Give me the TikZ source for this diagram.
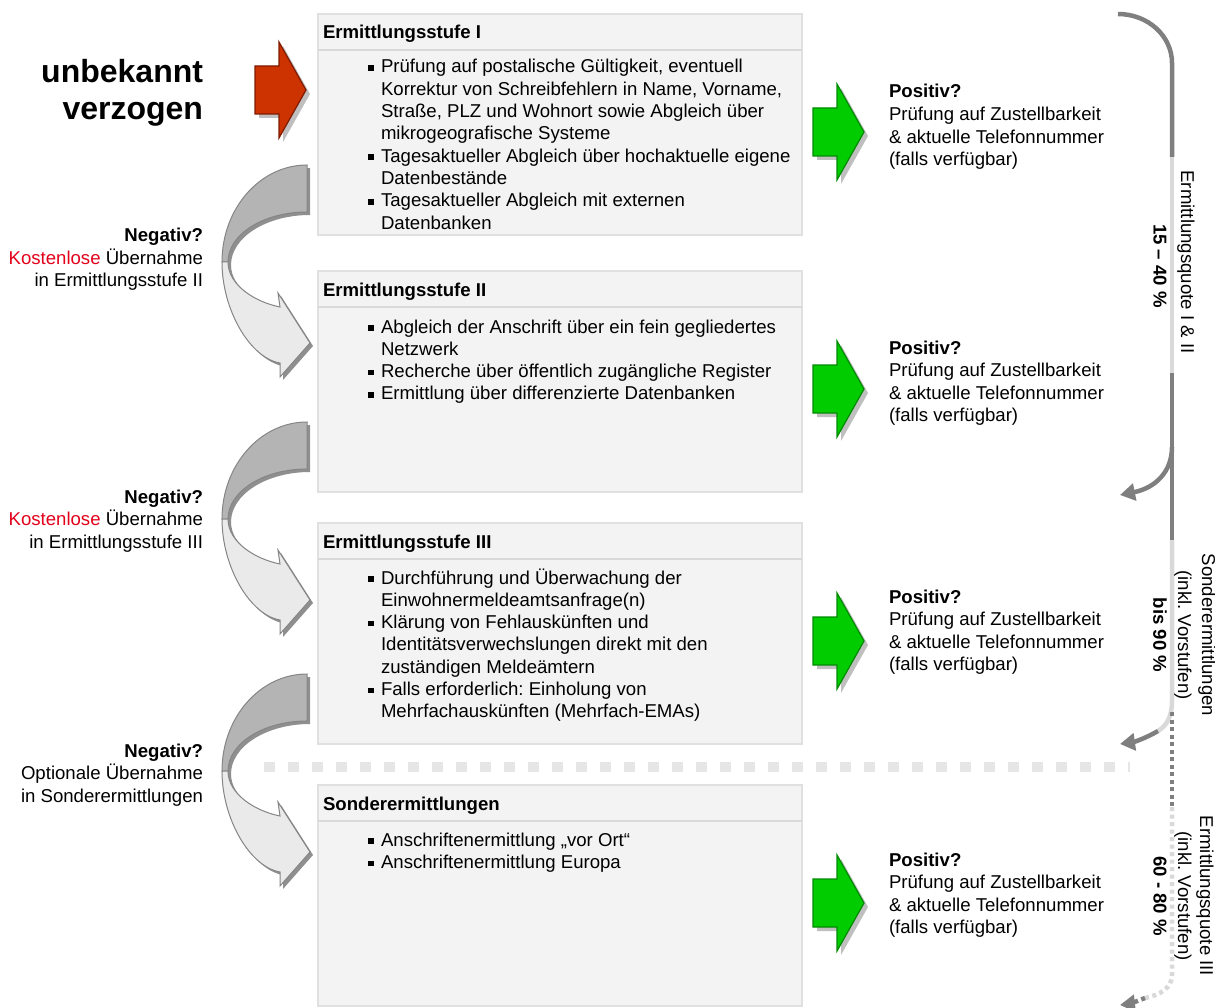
\documentclass[tikz,border=0pt]{standalone}
\usepackage{fontspec}
\setmainfont{Liberation Sans}
\usetikzlibrary{arrows.meta}
\frenchspacing
\definecolor{dk}{HTML}{7F7F7F}
\definecolor{lt}{HTML}{D9D9D9}
\definecolor{boxfill}{HTML}{F3F3F3}
\definecolor{boxline}{HTML}{E0E0E0}
\definecolor{sepc}{HTML}{D9D9D9}
\definecolor{redA}{HTML}{CC3300}
\definecolor{redB}{HTML}{801A00}
\definecolor{grA}{HTML}{00CC00}
\definecolor{grB}{HTML}{008A00}
\definecolor{shad}{HTML}{BFBFBF}
\definecolor{kred}{HTML}{E2001A}
\definecolor{cdark}{HTML}{B4B4B4}
\definecolor{clight}{HTML}{EAEAEA}
\definecolor{cline}{HTML}{858585}
\definecolor{cshad}{HTML}{8F8F8F}
\definecolor{dashc}{HTML}{E6E6E6}
\newcommand\bul{\makebox[13pt][l]{\rule[2.2pt]{5.5pt}{5.5pt}}}
\newcommand\cnt{\hspace*{13pt}}
\newcommand\fst{\rule{0pt}{17pt}}
\tikzset{
  every node/.style={inner sep=0pt,outer sep=0pt},
  txt/.style={font=\fontsize{18.6}{22.3}\selectfont\frenchspacing, align=left, anchor=north west},
  postxt/.style={font=\fontsize{18.6}{22.6}\selectfont, align=left, anchor=north west},
  lbl/.style={font=\fontsize{18.6}{22.5}\selectfont, align=right, anchor=north east},
  titletxt/.style={font=\fontsize{32}{37}\selectfont\bfseries, align=right, anchor=north east},
  hdr/.style={font=\fontsize{18.6}{22.3}\selectfont\bfseries, anchor=base west},
  stagebox/.style={draw=boxline, line width=1.2pt, fill=boxfill, minimum width=484pt, minimum height=221pt, anchor=north west},
  sepline/.style={draw=sepc, line width=1.6pt},
  rot/.style={font=\fontsize{18.6}{22.3}\selectfont, rotate=-90},
  brk/.style={line width=4.5pt},
  tipA/.style={-{Triangle[length=15pt,width=17pt]}},
  dots/.style={dash pattern=on 4pt off 3.5pt},
  sepdash/.style={draw=dashc, line width=10pt, dash pattern=on 11pt off 13pt},
  pics/barrow/.style 2 args={code={
    \fill[shad,shift={(4,4)}] (-51,-24) -- (-27,-24) -- (-27,-48) -- (0,0) -- (-27,48) -- (-27,24) -- (-51,24) -- cycle;
    \filldraw[fill=#1,draw=#2,line width=1.2pt] (-51,-24) -- (-27,-24) -- (-27,-48) -- (0,0) -- (-27,48) -- (-27,24) -- (-51,24) -- cycle;
  }},
  pics/carrow/.style={code={
    \fill[cshad,shift={(3,3)}] (85,0) .. controls (38.1,0) and (0,43.4) .. (0,97) -- (6,97) .. controls (6,69.4) and (41.4,47) .. (85,47) -- cycle;
    \filldraw[fill=cdark,draw=cline,line width=1pt] (85,0) .. controls (38.1,0) and (0,43.4) .. (0,97) -- (6,97) .. controls (6,69.4) and (41.4,47) .. (85,47) -- cycle;
    \fill[cshad,shift={(3,3)}] (0,97) .. controls (0,145) and (28,193) .. (58,198) -- (58,212) -- (88,178) -- (56,128) -- (58,142) .. controls (33,137) and (6,120) .. (6,97) -- cycle;
    \filldraw[fill=clight,draw=cline,line width=1pt] (0,97) .. controls (0,145) and (28,193) .. (58,198) -- (58,212) -- (88,178) -- (56,128) -- (58,142) .. controls (33,137) and (6,120) .. (6,97) -- cycle;
  }}
}
\begin{document}
\begin{tikzpicture}[x=1pt,y=-1pt]
\useasboundingbox (0,0) rectangle (1215,1008);

% stage boxes
\node[stagebox] (s1) at (318,14) {};
\node[stagebox] (s2) at (318,271) {};
\node[stagebox] (s3) at (318,523) {};
\node[stagebox] (s4) at (318,785) {};
\foreach \b in {s1,s2,s3,s4}{
  \draw[sepline] ([yshift=-36pt]\b.north west) -- ([yshift=-36pt]\b.north east);
}

% headers
\node[hdr] (h1) at (323,39) {Ermittlungsstufe I};
\node[hdr] (h2) at (323,296) {Ermittlungsstufe II};
\node[hdr] (h3) at (323,548) {Ermittlungsstufe III};
\node[hdr] (h4) at (323,810) {Sonderermittlungen};

% body texts
\node[txt] (t1) at (368,56) {\fst\bul Prüfung auf postalische Gültigkeit, eventuell\\
\cnt Korrektur von Schreibfehlern in Name, Vorname,\\
\cnt Straße, PLZ und Wohnort sowie Abgleich über\\
\cnt mikrogeografische Systeme\\
\bul Tagesaktueller Abgleich über hochaktuelle eigene\\
\cnt Datenbestände\\
\bul Tagesaktueller Abgleich mit externen\\
\cnt Datenbanken};

\node[txt] (t2) at (368,316) {\fst\bul Abgleich der Anschrift über ein fein gegliedertes\\
\cnt Netzwerk\\
\bul Recherche über öffentlich zugängliche Register\\
\bul Ermittlung über differenzierte Datenbanken};

\node[txt] (t3) at (368,567) {\fst\bul Durchführung und Überwachung der\\
\cnt Einwohnermeldeamtsanfrage(n)\\
\bul Klärung von Fehlauskünften und\\
\cnt Identitätsverwechslungen direkt mit den\\
\cnt zuständigen Meldeämtern\\
\bul Falls erforderlich: Einholung von\\
\cnt Mehrfachauskünften (Mehrfach-EMAs)};

\node[txt] (t4) at (368,829) {\fst\bul Anschriftenermittlung „vor Ort“\\
\bul Anschriftenermittlung Europa};

% title and red arrow
\node[titletxt] (uv) at (203,55) {\rule{0pt}{28pt}unbekannt\\verzogen};
\pic at (306,90) {barrow={redA}{redB}};

% green arrows
\pic at (864,132) {barrow={grA}{grB}};
\pic at (864,389) {barrow={grA}{grB}};
\pic at (864,641) {barrow={grA}{grB}};
\pic at (864,903) {barrow={grA}{grB}};

% positive texts
\node[postxt] (p1) at (889,81) {\fst\textbf{Positiv?}\\Prüfung auf Zustellbarkeit\\\& aktuelle Telefonnummer\\(falls verfügbar)};
\node[postxt] (p2) at (889,337) {\fst\textbf{Positiv?}\\Prüfung auf Zustellbarkeit\\\& aktuelle Telefonnummer\\(falls verfügbar)};
\node[postxt] (p3) at (889,586) {\fst\textbf{Positiv?}\\Prüfung auf Zustellbarkeit\\\& aktuelle Telefonnummer\\(falls verfügbar)};
\node[postxt] (p4) at (889,849) {\fst\textbf{Positiv?}\\Prüfung auf Zustellbarkeit\\\& aktuelle Telefonnummer\\(falls verfügbar)};

% curved arrows
\pic at (222,165) {carrow};
\pic at (222,422) {carrow};
\pic at (222,674) {carrow};

% negative labels
\node[lbl] (n1) at (203,225) {\fst\textbf{Negativ?}\\\textcolor{kred}{Kostenlose} Übernahme\\in Ermittlungsstufe II};
\node[lbl] (n2) at (203,486) {\fst\textbf{Negativ?}\\\textcolor{kred}{Kostenlose} Übernahme\\in Ermittlungsstufe III};
\node[lbl] (n3) at (203,740) {\fst\textbf{Negativ?}\\Optionale Übernahme\\in Sonderermittlungen};

% dashed separator
\coordinate (sd0) at (264,767);
\coordinate (sd1) at (1130,767);
\draw[sepdash] (sd0) -- (sd1);

% right bracket lines
\coordinate (r0) at (1118,14);
\coordinate (r1) at (1172,63);
\coordinate (r2) at (1172,157);
\coordinate (r3) at (1172,373);
\coordinate (r4) at (1172,447);
\coordinate (r5) at (1172,540);
\coordinate (r6) at (1172,700);
\coordinate (a1) at (1120,495);
\coordinate (a2m) at (1158,731);
\coordinate (a2) at (1120,744);
\coordinate (d0) at (1172,712);
\coordinate (d1) at (1172,807);
\coordinate (d2) at (1172,975);
\coordinate (d3m) at (1145,998);
\coordinate (a3) at (1120,1005);

\draw[brk,dk] (r0) .. controls (1148,14) and (1172,36) .. (r1) -- (r2);
\draw[brk,lt] (r2) -- (r3);
\draw[brk,dk] (r3) -- (r5);
\draw[brk,dk,tipA] (r4) .. controls (1172,472) and (1155,488) .. (a1);
\draw[brk,lt] (r5) -- (r6) .. controls (1172,718) and (1166,726) .. (a2m);
\draw[brk,dk,tipA] (a2m) .. controls (1146,738) and (1134,742) .. (a2);
\draw[brk,dk,dots] (d0) -- (d1);
\draw[brk,lt,dots] (d1) -- (d2) .. controls (1172,988) and (1160,995) .. (d3m);
\draw[brk,dk,dots,tipA] (d3m) .. controls (1137,1001) and (1129,1004) .. (a3);

% rotated labels
\node[rot] (q1a) at (1186,262) {Ermittlungsquote I \& II};
\node[rot] (q1b) at (1160,266) {\textbf{15 – 40 \%}};
\node[rot] (q2a) at (1207,635) {Sonderermittlungen};
\node[rot] (q2b) at (1183,635) {(inkl. Vorstufen)};
\node[rot] (q2c) at (1160,635) {\textbf{bis 90 \%}};
\node[rot] (q3a) at (1205,896) {Ermittlungsquote III};
\node[rot] (q3b) at (1183,896) {(inkl. Vorstufen)};
\node[rot] (q3c) at (1160,896) {\textbf{60 - 80 \%}};
\end{tikzpicture}
\end{document}
